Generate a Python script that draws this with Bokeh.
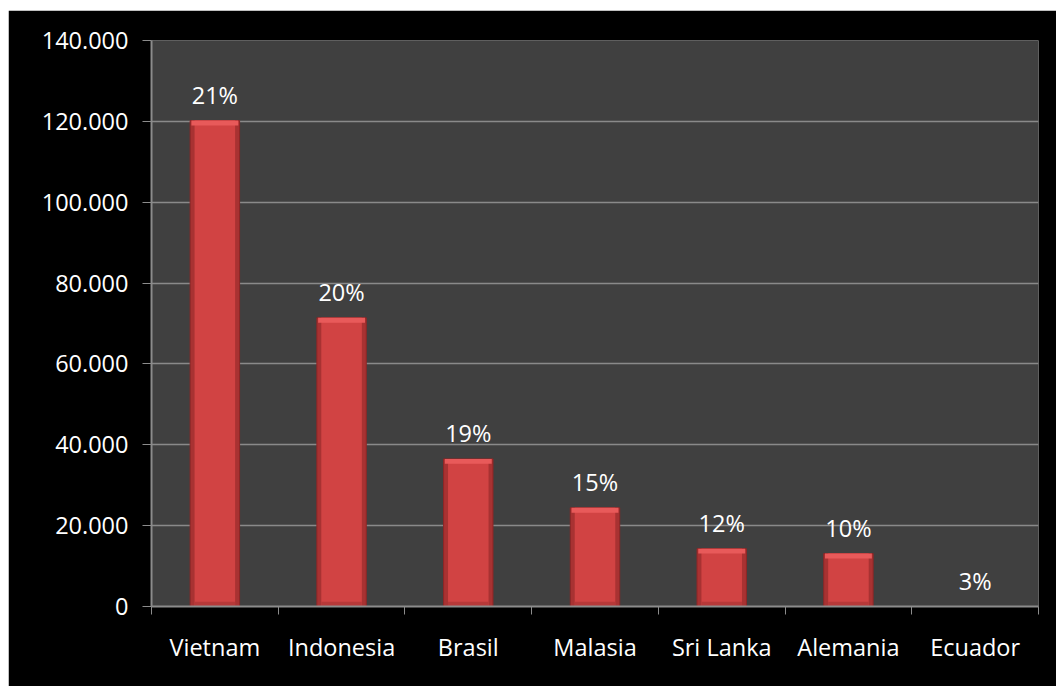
from bokeh.plotting import figure
from bokeh.models import Range1d, FixedTicker, ColumnDataSource, LabelSet
from bokeh.core.properties import value
from bokeh.embed import file_html
from bokeh.resources import INLINE

# ---- data ----
countries = ["Vietnam", "Indonesia", "Brasil", "Malasia", "Sri Lanka", "Alemania", "Ecuador"]
values = [120200, 71400, 36500, 24400, 14300, 13100, 0]
shares = ["21%", "20%", "19%", "15%", "12%", "10%", "3%"]
y_ticks = [0, 20000, 40000, 60000, 80000, 100000, 120000, 140000]

FONT = "Open Sans"
FS = "23.5px"

xs = [i + 0.5 for i in range(len(countries))]
cap = 1200
src = ColumnDataSource(dict(
    x=xs,
    top=values,
    cap_bottom=[max(v - cap, 0) for v in values],
    base_top=[min(v, cap) for v in values],
    label=shares,
))

p = figure(width=1048, height=676, output_backend="svg", toolbar_location=None,
           x_range=Range1d(0, len(countries)), y_range=Range1d(0, 140000),
           min_border_left=143, min_border_top=30, min_border_right=18, min_border_bottom=80)
p.margin = (10, 0, 0, 8)
p.background_fill_color = "#404040"
p.border_fill_color = "#000000"
p.outline_line_color = None

# bars (layered for a bevelled look)
p.vbar(x="x", top="top", bottom=0, width=0.39, source=src, fill_color="#a83232", line_color="#8e2626", line_width=1)
p.vbar(x="x", top="top", bottom=0, width=0.32, source=src, fill_color="#d14343", line_color=None)
p.vbar(x="x", top="base_top", bottom=0, width=0.32, source=src, fill_color="#b73838", line_color=None)
p.vbar(x="x", top="top", bottom="cap_bottom", width=0.37, source=src, fill_color="#e85a5a", line_color=None)

labels = LabelSet(x="x", y="top", text="label", source=src, y_offset=26,
                  text_align="center", text_baseline="middle", text_color="white",
                  text_font=value(FONT), text_font_size=value(FS))
p.add_layout(labels)

# x axis: labels at category centres, ticks at category boundaries
p.xaxis.ticker = FixedTicker(ticks=xs, minor_ticks=list(range(len(countries) + 1)))
p.xaxis.major_label_overrides = {x: c for x, c in zip(xs, countries)}
p.xaxis.major_tick_line_color = None
p.xaxis.major_tick_out = 0
p.xaxis.minor_tick_out = 8
p.xaxis.minor_tick_in = 0
p.xaxis.minor_tick_line_color = "#8c8c8c"
p.xaxis.axis_line_color = "#8c8c8c"
p.xaxis.axis_line_width = 2
p.xaxis.major_label_standoff = 16
p.xaxis.major_label_text_color = "white"
p.xaxis.major_label_text_font = FONT
p.xaxis.major_label_text_font_size = FS

# y axis
p.yaxis.ticker = FixedTicker(ticks=y_ticks)
p.yaxis.major_label_overrides = {t: f"{t:,}".replace(",", ".") for t in y_ticks}
p.yaxis.minor_tick_line_color = None
p.yaxis.major_tick_in = 0
p.yaxis.major_tick_out = 9
p.yaxis.major_tick_line_color = "#8c8c8c"
p.yaxis.axis_line_color = "#8c8c8c"
p.yaxis.axis_line_width = 2
p.yaxis.major_label_standoff = 14
p.yaxis.major_label_text_color = "white"
p.yaxis.major_label_text_font = FONT
p.yaxis.major_label_text_font_size = FS

p.xgrid.grid_line_color = None
p.ygrid.grid_line_color = "#8a8a8a"
p.ygrid.grid_line_width = 1.5

open("out.html", "w").write(file_html(p, INLINE))
